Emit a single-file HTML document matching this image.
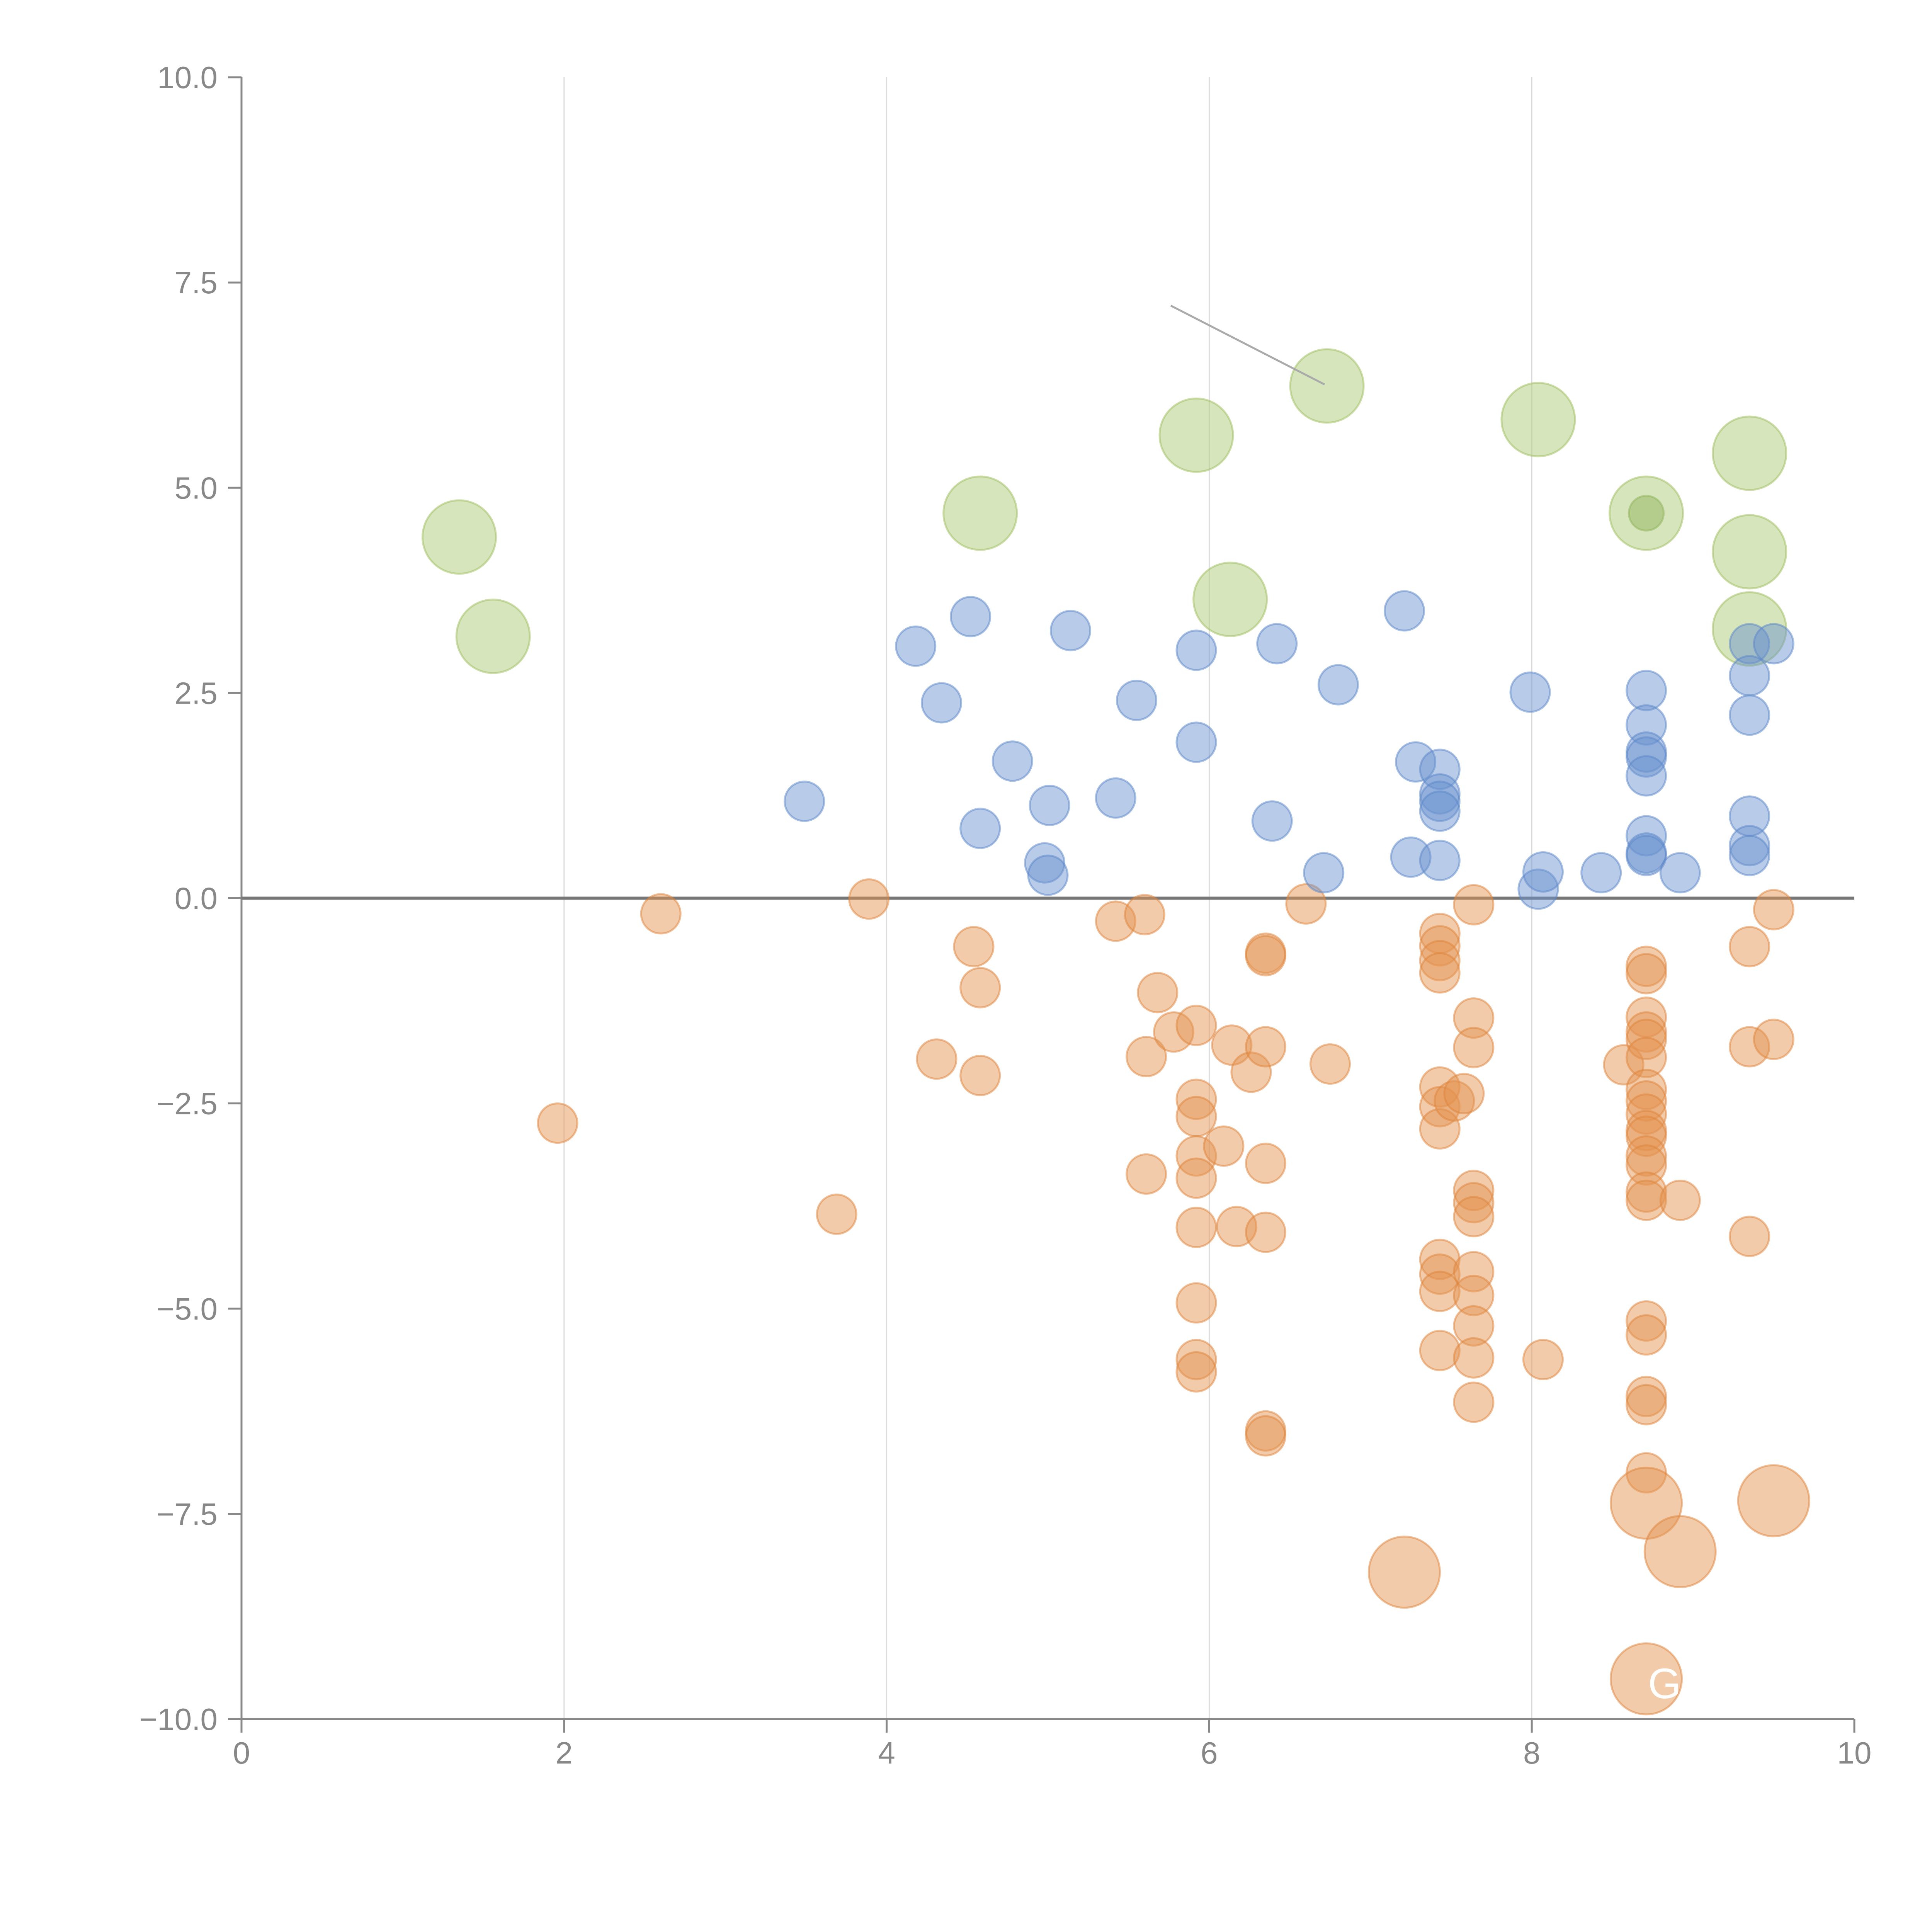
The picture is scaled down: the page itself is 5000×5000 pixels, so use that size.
<!DOCTYPE html>
<html><head><meta charset="utf-8"><style>
html,body{margin:0;padding:0;background:#fff;}
svg{display:block;font-family:"Liberation Sans",sans-serif;}
</style></head><body>
<svg id="chart" width="5000" height="5000" viewBox="0 0 5000 5000" xmlns="http://www.w3.org/2000/svg">
<rect width="5000" height="5000" fill="#fff"/>
<g id="grid"></g>
<g id="axes"></g>
<g id="marks"></g>
<g id="annot"></g>
</svg>
<script>
const xTicks=[0,2,4,6,8,10];
const yTicks=[-10,-7.5,-5,-2.5,0,2.5,5,7.5,10];
const yTickLabels=["\u221210.0","\u22127.5","\u22125.0","\u22122.5","0.0","2.5","5.0","7.5","10.0"];
const greenX=[1.35,1.56,4.58,5.92,6.13,6.73,8.04,8.71,9.35,9.35,9.35];
const greenY=[4.4,3.19,4.69,5.64,3.64,6.24,5.83,4.69,5.42,4.22,3.28];
const smallGreenX=[8.71];
const smallGreenY=[4.69];
const blueX=[3.49,4.18,4.34,4.52,4.58,4.78,4.98,5.0,5.01,5.14,5.42,5.55,5.92,5.92,6.39,6.42,6.71,6.8,7.21,7.25,7.28,7.43,7.43,7.43,7.43,7.43,7.99,8.04,8.07,8.43,8.71,8.71,8.71,8.71,8.71,8.71,8.71,8.71,8.92,9.35,9.35,9.35,9.35,9.35,9.35,9.5];
const blueY=[1.18,3.07,2.38,3.43,0.85,1.67,0.43,0.28,1.13,3.26,1.22,2.41,3.02,1.9,0.94,3.1,0.31,2.6,3.5,0.5,1.66,1.57,1.27,1.18,1.06,0.46,2.51,0.11,0.32,0.31,2.53,2.11,1.78,1.72,1.49,0.76,0.55,0.52,0.31,3.1,2.71,2.23,1.0,0.64,0.52,3.1];
const orangeX=[1.96,2.6,3.69,3.89,4.31,4.54,4.58,4.58,5.42,5.6,5.61,5.61,5.68,5.78,5.92,5.92,5.92,5.92,5.92,5.92,5.92,5.92,5.92,6.09,6.14,6.17,6.26,6.35,6.35,6.35,6.35,6.35,6.35,6.35,6.6,6.75,7.43,7.43,7.43,7.43,7.43,7.43,7.43,7.52,7.58,7.43,7.43,7.43,7.43,7.64,7.64,7.64,7.64,7.64,7.64,7.64,7.64,7.64,7.64,7.64,8.07,8.57,8.71,8.71,8.71,8.71,8.71,8.71,8.71,8.71,8.71,8.71,8.71,8.71,8.71,8.71,8.71,8.71,8.71,8.71,8.71,8.71,8.92,9.35,9.35,9.35,9.5,9.5];
const orangeY=[-2.74,-0.19,-3.85,-0.01,-1.96,-0.59,-1.09,-2.16,-0.28,-0.2,-1.93,-3.36,-1.15,-1.63,-1.55,-2.45,-2.66,-3.14,-3.41,-4.01,-4.93,-5.62,-5.77,-3.02,-1.79,-4.0,-2.12,-0.67,-0.7,-1.81,-3.23,-4.07,-6.49,-6.55,-0.07,-2.02,-0.43,-0.58,-0.76,-0.91,-2.3,-2.54,-2.81,-2.47,-2.38,-4.4,-4.58,-4.79,-5.51,-0.08,-1.46,-1.82,-3.56,-3.71,-3.88,-4.55,-4.84,-5.21,-5.6,-6.14,-5.62,-2.03,-0.83,-0.92,-1.45,-1.63,-1.72,-1.94,-2.33,-2.47,-2.63,-2.83,-2.9,-3.14,-3.25,-3.58,-3.68,-5.15,-5.32,-6.07,-6.17,-7.0,-3.68,-0.59,-1.81,-4.12,-0.14,-1.72];
const bigOrangeX=[7.21,8.71,8.92,9.5,8.71];
const bigOrangeY=[-8.21,-7.37,-7.96,-7.34,-9.51];

const X0=625,X1=4799,Y0=4449,Y1=200;
const sx=v=>X0+(v-0)/(10-0)*(X1-X0);
const sy=v=>Y0-(v+10)/20*(Y0-Y1);
const NS="http://www.w3.org/2000/svg";
function mk(tag,attrs,parent){const e=document.createElementNS(NS,tag);for(const k in attrs)e.setAttribute(k,attrs[k]);parent.appendChild(e);return e;}
const grid=document.getElementById('grid'),axes=document.getElementById('axes'),marks=document.getElementById('marks'),annot=document.getElementById('annot');

xTicks.forEach(t=>{
  if(t>0&&t<10){const g=mk('line',{x1:sx(t),x2:sx(t),y1:Y1,y2:Y0,stroke:'#dcdcdc','stroke-width':3},grid);
  
  }
  const tk=mk('line',{x1:sx(t),x2:sx(t),y1:Y0,y2:Y0+35,stroke:'#888','stroke-width':5},axes);
  
  
  const tx=mk('text',{x:sx(t),y:Y0+115,'text-anchor':'middle','font-size':80,fill:'#888'},axes);
  tx.textContent=String(t);
  
  
});
yTicks.forEach((t,i)=>{
  const tk=mk('line',{x1:X0-35,x2:X0,y1:sy(t),y2:sy(t),stroke:'#888','stroke-width':5},axes);
  
  
  const tx=mk('text',{x:X0-62,y:sy(t)+28,'text-anchor':'end','font-size':80,fill:'#888'},axes);
  tx.textContent=yTickLabels[i];
  
  
});
let a=mk('line',{x1:X0,x2:X0,y1:Y1,y2:Y0,stroke:'#888','stroke-width':5},axes);


a=mk('line',{x1:X0,x2:X1,y1:Y0,y2:Y0,stroke:'#888','stroke-width':5},axes);


a=mk('line',{x1:X0,x2:X1,y1:sy(0),y2:sy(0),stroke:'#777','stroke-width':8},axes);



function series(xs,ys,r,fill,stroke,name){
  xs.forEach((x,i)=>{
    const c=mk('circle',{cx:sx(x),cy:sy(ys[i]),r:r,fill:fill,'fill-opacity':0.48,stroke:stroke,'stroke-opacity':0.5,'stroke-width':5},marks);
    
    
  });
}
series(greenX,greenY,95,'#abc872','#9dbd5e','green-bubble');
series(orangeX,orangeY,51,'#e4934f','#dd8439','orange-point');
series(bigOrangeX,bigOrangeY,92,'#e4934f','#dd8439','orange-bubble');
series(blueX,blueY,51,'#6a93cf','#5a86c8','blue-point');
series(smallGreenX,smallGreenY,45,'#8fb35a','#8fb35a','green-point');

let l=mk('line',{x1:3030,y1:791,x2:3428,y2:995,stroke:'#aaa','stroke-width':5},annot);


let g=mk('text',{x:4265,y:4395,'font-size':110,fill:'#fff'},annot);
g.textContent='G';


</script>
</body></html>
